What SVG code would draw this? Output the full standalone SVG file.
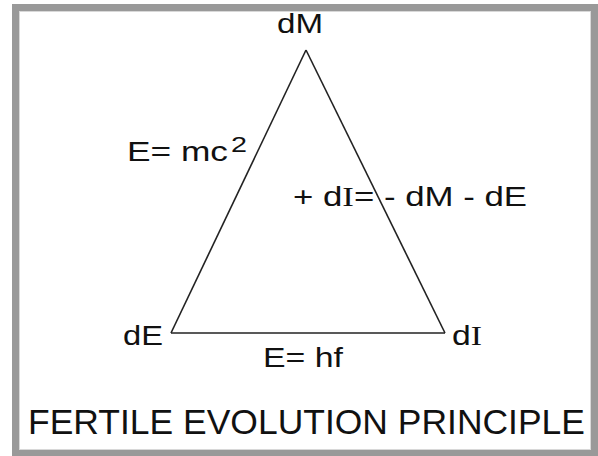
<svg xmlns="http://www.w3.org/2000/svg" width="598" height="456" viewBox="0 0 598 456">
<style>
text{font-family:"Liberation Sans",Arial,Helvetica,sans-serif;fill:#111;}
.lbl{font-size:28px;}
.ser{font-family:"Liberation Serif","Times New Roman",serif;}
.edge{fill:none;stroke:#222;stroke-width:1.6;}
</style>
<rect x="0" y="0" width="598" height="456" fill="#fff"/>
<rect x="15.5" y="7.5" width="579" height="446" fill="none" stroke="#999" stroke-width="7"/>
<rect x="19.5" y="11.5" width="571" height="438" fill="none" stroke="#d8d8d8" stroke-width="1"/>
<g id="connectors">
<line class="edge" x1="306" y1="50" x2="171" y2="333"/>
<line class="edge" x1="306" y1="50" x2="445" y2="333"/>
<line class="edge" x1="171" y1="333" x2="445" y2="333"/>
</g>
<g id="node-dM"><text class="lbl" x="277" y="33" textLength="46" lengthAdjust="spacingAndGlyphs">dM</text></g>
<g id="node-dE"><text class="lbl" x="123" y="345" textLength="40" lengthAdjust="spacingAndGlyphs">dE</text></g>
<g id="node-dI"><text class="lbl" x="452" y="345" textLength="30" lengthAdjust="spacingAndGlyphs">d<tspan class="ser">I</tspan></text></g>
<g id="label-mc2"><text class="lbl" x="127" y="161" textLength="101" lengthAdjust="spacingAndGlyphs">E= mc</text><text x="231" y="152" font-size="22" textLength="16" lengthAdjust="spacingAndGlyphs">2</text></g>
<g id="label-dI"><text class="lbl" x="293" y="206" textLength="234" lengthAdjust="spacingAndGlyphs">+ d<tspan class="ser">I</tspan>= - dM - dE</text></g>
<g id="label-hf"><text class="lbl" x="263" y="367" textLength="80" lengthAdjust="spacingAndGlyphs">E= hf</text></g>
<g id="title"><text x="28" y="434" font-size="35" textLength="557" lengthAdjust="spacingAndGlyphs">FERTILE EVOLUTION PRINCIPLE</text></g>
</svg>
